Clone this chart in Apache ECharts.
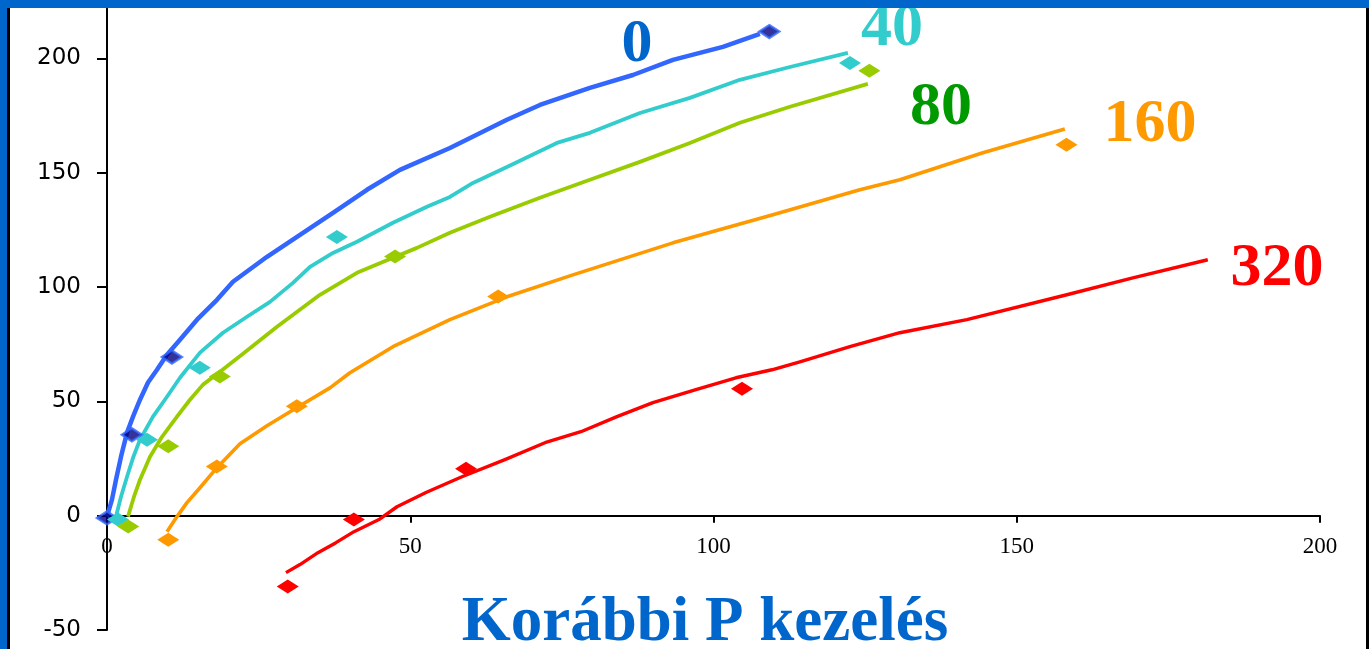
<!DOCTYPE html>
<html lang="hu">
<head>
<meta charset="utf-8">
<title>Korábbi P kezelés</title>
<script src="https://cdn.jsdelivr.net/npm/echarts@6/dist/echarts.min.js"></script>
<style>
  html, body { margin: 0; padding: 0; width: 1369px; height: 649px; overflow: hidden; background: #0066CC; }
  #frame { position: absolute; left: 7px; top: 8px; width: 1362px; height: 641px; box-sizing: border-box;
           background: #fff; border-left: 3px solid #000; border-right: 3px solid #000; }
  #chart { position: absolute; left: 0; top: 0; width: 1369px; height: 649px; }
  #topbar { position: absolute; left: 0; top: 0; width: 1369px; height: 8px; background: #0066CC; z-index: 5; }
</style>
</head>
<body>
<div id="frame"></div>
<div id="chart"></div>
<div id="topbar"></div>
<script>
// Previous P treatment levels (kg/ha)
const pLevels = ['0', '40', '80', '160', '320'];

// Observed points per treatment
const obs0   = [[0, -1], [4.1, 35.4], [10.7, 69.4], [109.2, 211.7]];
const obs40  = [[1.8, -1.7], [6.6, 33.2], [15.3, 64.7], [37.9, 121.9], [122.5, 198.0]];
const obs80  = [[3.5, -4.7], [10.1, 30.3], [18.6, 60.9], [47.5, 113.3], [125.7, 194.6]];
const obs160 = [[10.1, -10.5], [18.1, 21.5], [31.3, 47.8], [64.5, 95.8], [158.2, 162.2]];
const obs320 = [[29.8, -31.0], [40.7, -1.7], [59.2, 20.5], [104.7, 55.5]];

// Fitted trend curves per treatment
const fit0 = [[0, -0.4], [0.82, 7.0], [1.48, 15.7], [2.31, 25.8], [3.30, 36.3], [4.29, 43.3], [5.44, 50.7],
  [6.76, 58.2], [8.24, 63.8], [9.89, 70.4], [12.03, 76.9], [14.84, 85.7], [18.13, 94.4], [20.77, 102.3],
  [26.38, 113.2], [31.82, 122.8], [37.26, 132.4], [42.86, 142.5], [48.30, 151.2], [56.54, 160.8],
  [65.94, 173.1], [71.38, 179.6], [79.62, 187.1], [86.71, 192.7], [93.31, 199.3], [101.55, 205.0], [107.65, 210.7]];
const fit40 = [[1.48, -0.4], [2.31, 8.3], [3.30, 17.0], [4.29, 25.3], [5.44, 33.2], [7.58, 43.3], [9.89, 52.0],
  [12.03, 60.3], [15.33, 71.3], [19.12, 80.0], [23.08, 87.0], [26.87, 93.5], [30.66, 101.8], [33.47, 108.8],
  [37.26, 114.9], [41.21, 119.8], [47.15, 128.1], [52.75, 135.1], [56.54, 139.4], [60.34, 145.5],
  [65.94, 152.5], [74.18, 163.0], [79.62, 167.4], [87.87, 176.1], [96.11, 182.7], [104.35, 190.6],
  [112.60, 196.2], [122.16, 202.4]];
const fit80 = [[3.46, -0.4], [4.45, 8.3], [5.44, 15.7], [7.09, 25.8], [9.07, 34.5], [11.54, 43.3], [13.68, 50.7],
  [15.83, 57.3], [18.63, 62.9], [22.42, 70.8], [28.03, 82.6], [35.11, 96.6], [41.21, 106.2], [47.15, 112.8],
  [51.10, 117.1], [56.54, 123.7], [63.14, 130.7], [71.38, 139.0], [79.62, 146.9], [87.87, 154.7],
  [96.11, 163.0], [104.35, 171.8], [112.60, 178.8], [125.45, 188.8]];
const fit160 = [[9.89, -7.0], [11.54, -0.4], [13.19, 5.7], [15.33, 12.2], [18.13, 21.0], [21.93, 31.5],
  [26.38, 39.3], [31.82, 48.1], [36.76, 55.9], [40.06, 62.5], [47.15, 73.9], [56.54, 85.7], [65.94, 95.7],
  [76.82, 105.3], [93.31, 119.3], [109.79, 131.6], [124.13, 142.5], [130.73, 146.9], [144.41, 158.7], [157.93, 169.1]];
const fit320 = [[29.51, -24.9], [31.82, -21.4], [34.78, -16.2], [37.75, -11.8], [40.72, -7.0], [44.84, -1.7],
  [47.81, 3.9], [52.59, 10.1], [58.52, 17.0], [65.61, 24.5], [72.21, 31.9], [78.14, 36.7], [84.08, 43.3],
  [90.01, 49.4], [97.10, 55.1], [103.69, 60.3], [109.63, 63.8], [114.24, 67.3], [122.49, 73.9], [130.73, 80.0],
  [141.77, 85.7], [158.26, 96.6], [169.14, 104.0], [181.50, 111.9]];

// Axis ticks
const xTicks = [0, 50, 100, 150, 200];
const yTicks = [-50, 0, 50, 100, 150, 200];

const titleText = 'Korábbi P kezelés';

const lineColors   = ['#3366FF', '#33CCCC', '#99CC00', '#FF9900', '#FF0000'];
const labelColors  = ['#0066CC', '#33CCCC', '#009900', '#FF9900', '#FF0000'];
const lineWidths   = [4.5, 3.8, 3.8, 3.6, 3.4];
const fits = [fit0, fit40, fit80, fit160, fit320];
const obsSets = [obs0, obs40, obs80, obs160, obs320];
// Curve label centres (px)
const labelPos = [[637, 45], [892, 29], [941, 108], [1150, 125], [1277, 269]];

// Plot area and value ranges
const gridBox = { left: 107, right: 49, top: 8, bottom: 19 };
const xRange = [0, 200];
const yRange = [-50, 222];
const gridHeight = 649 - gridBox.top - gridBox.bottom;
// the horizontal axis sits on y = 0, lifted from the bottom edge of the plot area
const xAxisLift = -gridHeight * (0 - yRange[0]) / (yRange[1] - yRange[0]);

const series = [];
fits.forEach((pts, i) => {
  series.push({
    name: pLevels[i] + ' trend', type: 'line', data: pts, showSymbol: false, smooth: false,
    lineStyle: { color: lineColors[i], width: lineWidths[i], join: 'round', cap: 'butt' },
    z: 2, silent: true, animation: false
  });
});
obsSets.forEach((pts, i) => {
  const isFirst = i === 0;
  series.push({
    name: pLevels[i], type: 'scatter', data: pts, symbol: 'diamond',
    symbolSize: isFirst ? [20, 13] : [22, 14],
    itemStyle: isFirst ? { color: '#000080', borderColor: '#3366FF', borderWidth: 2.5 } : { color: lineColors[i], opacity: 1 },
    z: 3, silent: true, animation: false
  });
});

const chart = echarts.init(document.getElementById('chart'), null, { renderer: 'canvas' });
chart.setOption({
  backgroundColor: 'transparent',
  animation: false,
  grid: Object.assign({ containLabel: false, outerBoundsMode: 'none' }, gridBox),
  xAxis: {
    type: 'value', min: xRange[0], max: xRange[1], interval: 50,
    position: 'bottom', offset: xAxisLift,
    axisLine: { onZero: false, lineStyle: { color: '#000', width: 2 } },
    axisTick: { show: true, length: 7, lineStyle: { color: '#000', width: 2 }, customValues: xTicks },
    axisLabel: { margin: 20, color: '#000', fontFamily: 'Liberation Serif', fontSize: 23, customValues: xTicks },
    splitLine: { show: false }
  },
  yAxis: {
    type: 'value', min: yRange[0], max: yRange[1], interval: 50,
    axisLine: { show: true, onZero: false, lineStyle: { color: '#000', width: 2 } },
    axisTick: { show: true, length: 10, lineStyle: { color: '#000', width: 2 }, customValues: yTicks },
    axisLabel: { margin: 26, color: '#000', fontFamily: 'DejaVu Sans', fontSize: 23, customValues: yTicks },
    splitLine: { show: false }
  },
  graphic: [
    ...pLevels.map((t, i) => ({
      type: 'text', x: labelPos[i][0], y: labelPos[i][1], z: 10, silent: true,
      style: { text: t, fill: labelColors[i], font: 'bold 62px "Liberation Serif"', align: 'center', verticalAlign: 'middle' }
    })),
    {
      type: 'text', x: 705, y: 624, z: 10, silent: true,
      style: { text: titleText, fill: '#0066CC', font: 'bold 63px "Liberation Serif"', align: 'center', verticalAlign: 'middle' }
    }
  ],
  series: series
});
</script>
</body>
</html>
